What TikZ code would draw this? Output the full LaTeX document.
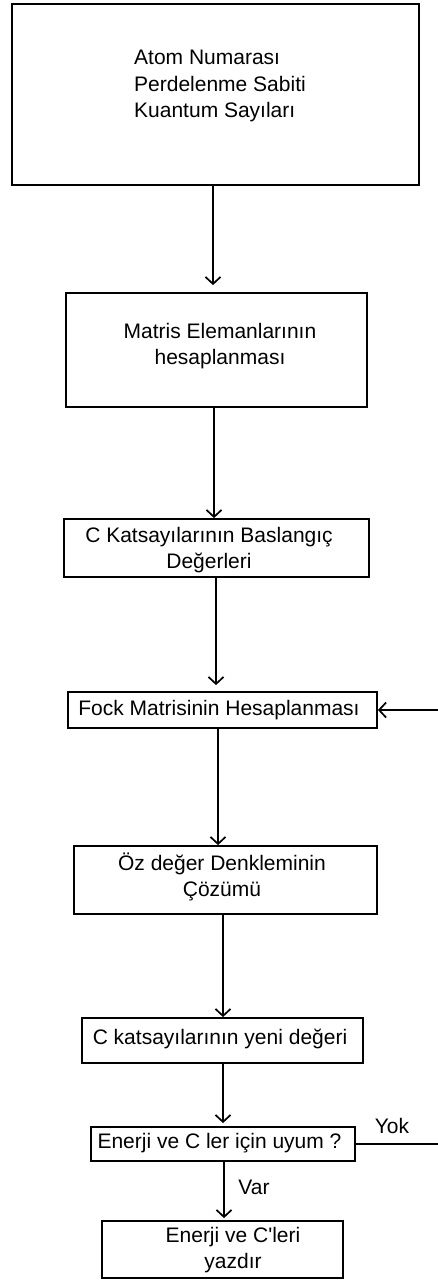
\documentclass[tikz,border=0pt]{standalone}
\usepackage{fontspec}
\newfontfamily\flowfont{Liberation Sans}
\usetikzlibrary{arrows.meta}
\tikzset{
  box/.style={rectangle, draw, line width=1.8pt},
  lbl/.style={font=\flowfont\fontsize{21}{26.5}\selectfont, align=center, inner sep=0pt},
  arr/.style={line width=1.7pt, -{Straight Barb[length=7pt,width=15pt]}}
}
\begin{document}
\begin{tikzpicture}[x=1pt, y=-1pt]
       \useasboundingbox (0,0) rectangle (438,1282);
       \draw (215.5,94.5) node[box, minimum width=407, minimum height=181](b1){}
       (216.5,350) node[box, minimum width=301, minimum height=114](b2){}
       (216.5,548) node[box, minimum width=305, minimum height=58](b3){}
       (222.5,710) node[box, minimum width=309, minimum height=36](b4){}
       (225.5,880) node[box, minimum width=303, minimum height=68](b5){}
       (222.5,1040.5) node[box, minimum width=281, minimum height=45](b6){}
       (223,1144) node[box, minimum width=264, minimum height=34](b7){}
       (222.5,1249.5) node[box, minimum width=241, minimum height=57](b8){};

       \node[lbl, align=left] (t1) at (220,86) {Atom Numarası\\Perdelenme Sabiti\\Kuantum Sayıları};
       \node[lbl] (t2) at (220,346) {Matris Elemanlarının\\hesaplanması};
       \node[lbl] (t3) at (209,550) {C Katsayılarının Baslangıç\\Değerleri};
       \node[lbl] (t4) at (219,710) {Fock Matrisinin Hesaplanması};
       \node[lbl] (t5) at (222,877) {Öz değer Denkleminin\\Çözümü};
       \node[lbl] (t6) at (220,1039) {C katsayılarının yeni değeri};
       \node[lbl] (t7) at (219.5,1143) {Enerji ve C ler için uyum ?};
       \node[lbl] (t8) at (233,1250) {Enerji ve C'leri\\yazdır};
       \node[lbl] (yok) at (392,1126) {Yok};
       \node[lbl] (var) at (254,1187) {Var};

       \coordinate (r1) at (442,1144);
       \coordinate (r2) at (442,710);

       \draw[arr, shorten >=7pt] ([xshift=-2.5]b1.south) -- ([xshift=-3.5]b2.north);
       \draw[arr] ([xshift=-2.5]b2.south) -- ([xshift=-2.5]b3.north);
       \draw[arr, shorten >=6pt] ([xshift=-0.5]b3.south) -- ([xshift=-6.5]b4.north);
       \draw[arr] ([xshift=-4.5]b4.south) -- ([xshift=-7.5]b5.north);
       \draw[arr] ([xshift=-2.5]b5.south) -- ([xshift=0.5]b6.north);
       \draw[arr, shorten >=3pt] ([xshift=0.5]b6.south) -- (b7.north);
       \draw[arr, shorten >=2pt] ([xshift=1]b7.south) -- ([xshift=1.5]b8.north);
       \draw[arr] (b7.east) -- (r1) -- (r2) -- (b4.east);
    \end{tikzpicture}
\end{document}
